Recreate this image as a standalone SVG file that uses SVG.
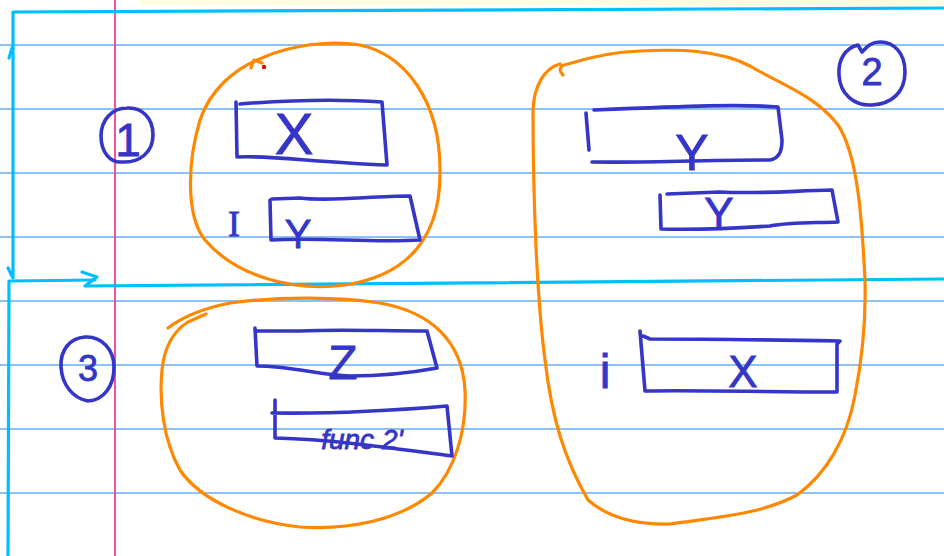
<svg xmlns="http://www.w3.org/2000/svg" width="944" height="556" viewBox="0 0 944 556">
<style>
.rule{stroke:#6aaef0;stroke-width:1.6;fill:none}
.margin{stroke:#f0509c;stroke-width:2;fill:none}
.frame{stroke:#00bfff;stroke-width:3.2;fill:none;stroke-linecap:round;stroke-linejoin:round}
.ink{stroke:#3535c8;stroke-width:3.6;fill:none;stroke-linecap:round;stroke-linejoin:round}
.blob{stroke:#ff8800;stroke-width:3.2;fill:none;stroke-linecap:round;stroke-linejoin:round}
.lbl{fill:#3535c8;stroke:#3535c8;stroke-width:0.8;font-family:"Liberation Sans","DejaVu Sans",sans-serif;text-anchor:middle}
.serif{font-family:"Liberation Serif","DejaVu Serif",serif}
</style>
<rect width="944" height="556" fill="#ffffff"/>
<rect x="140" y="0" width="804" height="5" fill="#fffbe0"/>
<g id="paper">
<line class="rule" x1="0" y1="45" x2="944" y2="45"/>
<line class="rule" x1="0" y1="109" x2="944" y2="109"/>
<line class="rule" x1="0" y1="173" x2="944" y2="173"/>
<line class="rule" x1="0" y1="237" x2="944" y2="237"/>
<line class="rule" x1="0" y1="301" x2="944" y2="301"/>
<line class="rule" x1="0" y1="365" x2="944" y2="365"/>
<line class="rule" x1="0" y1="429" x2="944" y2="429"/>
<line class="rule" x1="0" y1="493" x2="944" y2="493"/>
<line class="margin" x1="115" y1="0" x2="115" y2="556"/>
</g>
<g id="frame">
<path class="frame" d="M13 278 L13 12 L944 8"/>
<path class="frame" d="M9 58 L13 45"/>
<path class="frame" d="M8 268 L12 276"/>
<path class="frame" d="M8 556 L9 281 L95 280"/>
<path class="frame" d="M82 272 L97 277 L85 286 L944 279"/>
</g>
<g id="connectors"></g>
<g id="label-1">
<path class="ink" d="M127 108 C112 108 101 120 101 136 C101 152 110 163 122 162 C140 163 153 152 153 135 C153 118 142 107 127 108 Z"/>
<text class="lbl" x="128" y="156" font-size="46">1</text>
</g>
<g id="label-2">
<path class="ink" d="M858 45 C845 48 838 60 839 75 C840 95 855 106 872 105 C892 104 905 92 905 72 C905 53 894 42 880 42 C870 42 866 48 862 52 Z"/>
<text class="lbl" x="872" y="85" font-size="38">2</text>
</g>
<g id="label-3">
<path class="ink" d="M85 337 C70 338 60 350 61 367 C62 384 72 398 88 401 C104 400 114 386 114 367 C114 350 102 336 85 337 Z"/>
<text class="lbl" x="88" y="381" font-size="36">3</text>
</g>
<g id="blob-1">
<path class="blob" d="M262 58 C290 45 330 40 360 45 C405 55 440 100 440 170 C441 235 410 275 345 285 C290 292 235 275 205 240 C185 215 188 160 200 120 C210 90 235 68 262 58 Z"/>
<path class="blob" d="M251 68 L254 60 L262 63"/>
<circle cx="264" cy="67" r="2.2" fill="#e00000"/>
</g>
<g id="node-x1">
<path class="ink" d="M236 102 L237 157 C270 155 310 162 387 165 L382 102 C340 99 290 100 240 104"/>
<text class="lbl" x="294" y="154" font-size="58">X</text>
</g>
<g id="node-y1">
<path class="ink" d="M270 200 L271 240 C320 237 370 243 420 240 L410 196 C370 196 330 202 300 198 L272 199"/>
<text class="lbl" x="298" y="248" font-size="40">Y</text>
<text class="lbl serif" x="234" y="236" font-size="36">I</text>
</g>
<g id="blob-2">
<path class="blob" d="M563 75 C558 70 560 65 568 64 C590 57 612 52 640 51 C680 49 720 50 750 66 C780 84 815 95 838 125 C858 155 862 220 865 280 C866 320 862 360 855 395 C847 440 825 475 797 495 C760 515 710 518 670 524 C630 525 605 515 588 500 C565 460 552 420 545 360 C537 300 533 200 533 110 C534 85 545 68 560 64"/>
</g>
<g id="node-y2">
<path class="ink" d="M586 113 L589 150 M592 162 C640 163 700 160 770 160 C780 158 782 150 782 140 L778 107 C740 104 690 106 594 110"/>
<text class="lbl" x="692" y="170" font-size="50">Y</text>
</g>
<g id="node-y3">
<path class="ink" d="M660 195 L661 229 C700 230 740 228 770 226 C790 222 810 223 838 222 L832 190 C790 191 760 194 720 192 L667 194"/>
<text class="lbl" x="719" y="229" font-size="44">Y</text>
</g>
<g id="node-x2">
<path class="ink" d="M640 331 L645 391 C700 390 760 392 837 392 L837 344 L840 341 C780 340 720 339 650 339 L643 336"/>
<text class="lbl" x="743" y="387" font-size="44">X</text>
<text class="lbl" x="605" y="388" font-size="48">i</text>
</g>
<g id="blob-3">
<path class="blob" d="M168 328 C185 315 205 308 230 303 C280 296 340 297 380 303 C430 312 462 340 465 390 C467 430 455 470 432 493 C400 520 350 530 300 527 C250 522 200 500 180 470 C163 440 159 400 162 370 C164 350 172 332 188 322 L206 314"/>
</g>
<g id="node-z">
<path class="ink" d="M255 328 L257 366 C290 366 320 375 350 376 C380 376 410 373 437 368 L427 331 C380 331 340 329 300 331 L257 331"/>
<text class="lbl" x="343" y="379" font-size="48">Z</text>
</g>
<g id="node-func">
<path class="ink" d="M275 400 L275 438 C340 440 390 448 452 456 L447 406 C400 410 340 414 272 413"/>
<text class="lbl" x="362" y="449" font-size="28" font-style="italic">func 2'</text>
</g>
</svg>
